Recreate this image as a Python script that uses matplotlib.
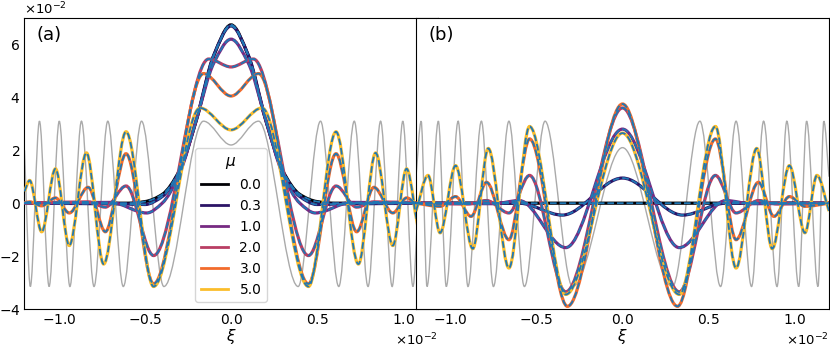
import numpy as np
import matplotlib.pyplot as plt
from matplotlib.path import Path
from matplotlib.patches import PathPatch
from matplotlib.lines import Line2D

plt.rcParams.update({"font.size": 10, "mathtext.fontset": "dejavusans"})

mu_labels = ["0.0", "0.3", "1.0", "2.0", "3.0", "5.0"]
colors = ["#000004", "#2c1466", "#772a82", "#b93e64", "#f26b2c", "#fbbd2b"]

# read-off knots for xi >= 0 (both axes in units of 1e-2); curves are even in xi
# panel (a)
gray_a_x = [0, 0.16, 0.39, 0.52, 0.626, 0.716, 0.796, 0.869, 0.936, 0.998, 1.057, 1.113, 1.166, 1.2]
gray_a_y = [2.2, 3.1, -3.15, 3.1, -3.15, 3.1, -3.15, 3.1, -3.15, 3.1, -3.15, 3.1, -3.15, 2.0]

a_mu00_x = [0, 0.1, 0.2, 0.3, 0.4, 0.5, 0.6, 1.2]
a_mu00_y = [6.74, 5.58, 3.17, 1.23, 0.33, 0.06, 0.0, 0.0]
a_mu03_x = [0, 0.1, 0.2, 0.3, 0.4, 0.5, 0.62, 1.2]
a_mu03_y = [6.7, 5.6, 3.2, 1.2, 0.25, -0.05, -0.03, 0.0]
a_mu10_x = [0, 0.1, 0.2, 0.3, 0.4, 0.49, 0.7, 1.2]
a_mu10_y = [6.2, 5.3, 3.2, 1.1, 0.0, -0.37, 0.03, 0.0]
a_mu20_x = [0, 0.13, 0.45, 0.61, 0.73, 0.83, 1.2]
a_mu20_y = [5.15, 5.45, -1.98, 0.65, -0.15, 0.05, 0.0]
a_mu30_x = [0, 0.16, 0.45, 0.61, 0.73, 0.83, 0.94, 1.02, 1.10, 1.17, 1.2]
a_mu30_y = [4.05, 4.9, -3.05, 1.87, -1.08, 0.6, -0.37, 0.2, -0.1, 0.05, 0.02]
a_mu50_x = [0, 0.18, 0.45, 0.61, 0.74, 0.84, 0.94, 1.02, 1.10, 1.17, 1.2]
a_mu50_y = [2.77, 3.6, -3.15, 2.7, -2.3, 1.9, -1.6, 1.3, -1.08, 0.86, 0.45]

# panel (b)
gray_b_x = [0, 0.29, 0.45, 0.57, 0.66, 0.75, 0.82, 0.898, 0.955, 1.024, 1.07, 1.136, 1.17, 1.2]
gray_b_y = [2.1, -3.15, 3.1, -3.15, 3.1, -3.15, 3.1, -3.15, 3.1, -3.15, 3.1, -3.15, 3.1, 1.0]

b_mu00_x = [0, 1.2]
b_mu00_y = [0.0, 0.0]
b_mu03_x = [0, 0.35, 0.6, 1.2]
b_mu03_y = [0.95, -0.45, 0.0, 0.0]
b_mu10_x = [0, 0.33, 0.6, 0.75, 1.2]
b_mu10_y = [2.8, -1.68, 0.1, -0.02, 0.0]
b_mu20_x = [0, 0.33, 0.54, 0.66, 0.79, 0.9, 1.2]
b_mu20_y = [3.6, -3.35, 1.05, -0.37, 0.1, -0.03, 0.0]
b_mu30_x = [0, 0.32, 0.54, 0.66, 0.79, 0.88, 0.97, 1.06, 1.2]
b_mu30_y = [3.75, -3.9, 2.43, -1.38, 0.79, -0.5, 0.25, -0.12, 0.0]
b_mu50_x = [0, 0.33, 0.54, 0.66, 0.78, 0.87, 0.97, 1.06, 1.13, 1.2]
b_mu50_y = [2.65, -3.45, 2.9, -2.45, 2.07, -1.72, 1.42, -1.12, 1.05, -0.3]

panel_a = [(a_mu00_x, a_mu00_y), (a_mu03_x, a_mu03_y), (a_mu10_x, a_mu10_y),
           (a_mu20_x, a_mu20_y), (a_mu30_x, a_mu30_y), (a_mu50_x, a_mu50_y)]
panel_b = [(b_mu00_x, b_mu00_y), (b_mu03_x, b_mu03_y), (b_mu10_x, b_mu10_y),
           (b_mu20_x, b_mu20_y), (b_mu30_x, b_mu30_y), (b_mu50_x, b_mu50_y)]


def curve_path(xk, yk):
    # mirror to negative xi, then smooth monotone cubic (Bezier) through knots
    x = np.concatenate([-np.asarray(xk[:0:-1], float), xk]) * 1e-2
    y = np.concatenate([np.asarray(yk[:0:-1], float), yk]) * 1e-2
    h = np.diff(x)
    d = np.diff(y) / h
    m = np.zeros_like(x)
    for i in range(1, len(x) - 1):
        if d[i - 1] * d[i] > 0:
            w1, w2 = 2 * h[i] + h[i - 1], h[i] + 2 * h[i - 1]
            m[i] = (w1 + w2) / (w1 / d[i - 1] + w2 / d[i])
    m[0], m[-1] = d[0], d[-1]
    verts = [(x[0], y[0])]
    codes = [Path.MOVETO]
    for i in range(len(h)):
        verts += [(x[i] + h[i] / 3, y[i] + m[i] * h[i] / 3),
                  (x[i + 1] - h[i] / 3, y[i + 1] - m[i + 1] * h[i] / 3),
                  (x[i + 1], y[i + 1])]
        codes += [Path.CURVE4] * 3
    return Path(verts, codes)


def draw(ax, xk, yk, **kw):
    ax.add_patch(PathPatch(curve_path(xk, yk), fill=False, **kw))


fig = plt.figure(figsize=(8.3, 3.47), dpi=100)
ax1 = fig.add_axes([0.0295, 0.1095, 0.4977, 0.8386])
ax2 = fig.add_axes([0.5012, 0.1095, 0.4976, 0.8386])

for ax, gray, curves, tag in [(ax1, (gray_a_x, gray_a_y), panel_a, "(a)"),
                              (ax2, (gray_b_x, gray_b_y), panel_b, "(b)")]:
    draw(ax, *gray, ec="#aaaaaa", lw=1.0, zorder=2)
    for (xk, yk), c in zip(curves, colors):
        draw(ax, xk, yk, ec=c, lw=2.3, zorder=3)
        draw(ax, xk, yk, ec="#1f77b4", lw=1.3, ls="--", zorder=4)
    ax.set_xlim(-1.2e-2, 1.2e-2)
    ax.set_ylim(-4e-2, 7e-2)
    ax.set_xticks(np.array([-1.0, -0.5, 0.0, 0.5, 1.0]) * 1e-2)
    ax.set_yticks(np.arange(-4, 7, 2) * 1e-2)
    ax.ticklabel_format(style="sci", scilimits=(0, 0), useMathText=True)
    ax.tick_params(length=0, pad=3)
    ax.xaxis.get_offset_text().set_fontsize(9.5)
    ax.yaxis.get_offset_text().set_fontsize(9.5)
    ax.set_xlabel(r"$\xi$", fontsize=11, labelpad=0)
    ax.text(0.03, 0.94, tag, transform=ax.transAxes, fontsize=13, va="center")

ax2.tick_params(axis="y", left=False, labelleft=False)
ax2.yaxis.get_offset_text().set_visible(False)

handles = [Line2D([], [], color=c, lw=2) for c in colors]
ax1.legend(handles, mu_labels, title=r"$\mu$", loc="lower center",
           fontsize=10, title_fontsize=11)

fig.savefig("out.png", dpi=100)
